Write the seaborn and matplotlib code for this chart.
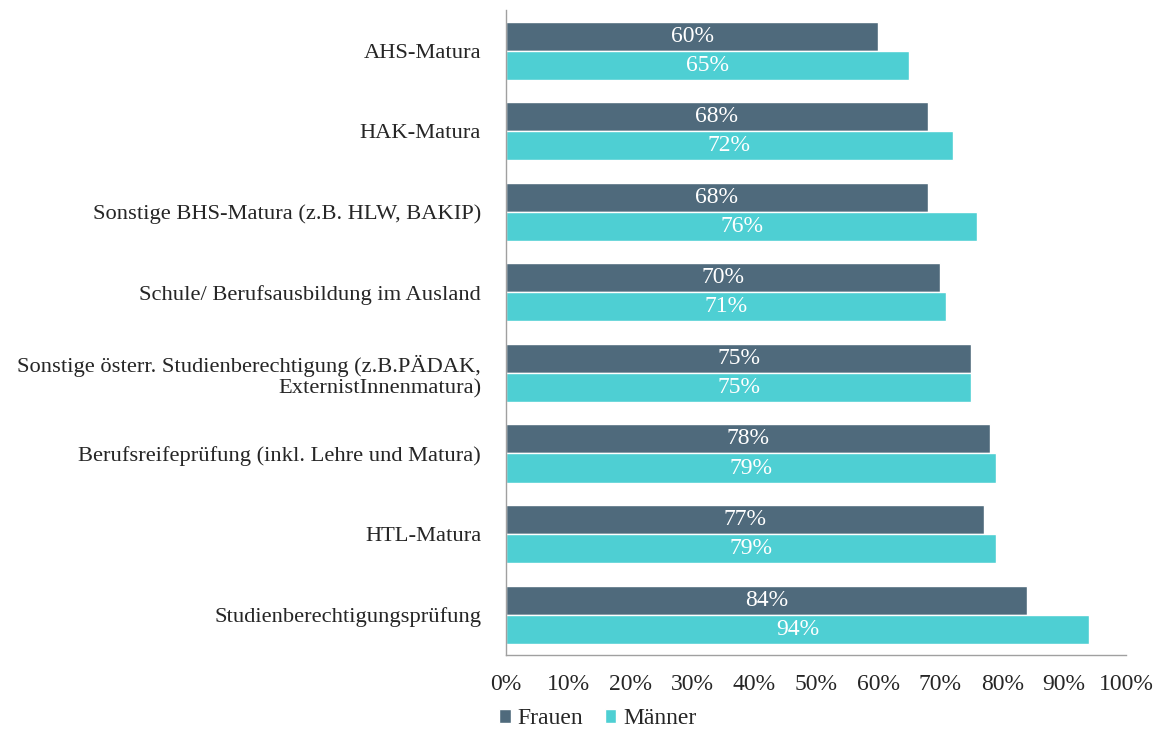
import pandas as pd
import matplotlib
matplotlib.use("Agg")
import matplotlib.pyplot as plt
import seaborn as sns

# Daten (Anteile in %)
categories = [
    "AHS-Matura",
    "HAK-Matura",
    "Sonstige BHS-Matura (z.B. HLW, BAKIP)",
    "Schule/ Berufsausbildung im Ausland",
    "Sonstige österr. Studienberechtigung (z.B.PÄDAK,\nExternistInnenmatura)",
    "Berufsreifeprüfung (inkl. Lehre und Matura)",
    "HTL-Matura",
    "Studienberechtigungsprüfung",
]
frauen = [60, 68, 68, 70, 75, 78, 77, 84]
maenner = [65, 72, 76, 71, 75, 79, 79, 94]
groups = ["Frauen", "Männer"]
palette = {"Frauen": "#4F6A7C", "Männer": "#4ECFD3"}
x_ticks = list(range(0, 101, 10))

df = pd.DataFrame({
    "kategorie": categories * 2,
    "gruppe": ["Frauen"] * len(categories) + ["Männer"] * len(categories),
    "wert": frauen + maenner,
})

sns.set_style("white")
plt.rcParams["font.family"] = ["Liberation Serif", "DejaVu Serif"]

fig = plt.figure(figsize=(11.61, 7.31), dpi=100)
ax = fig.add_axes([0.436, 0.104, 0.534, 0.882])

sns.barplot(
    data=df, x="wert", y="kategorie", hue="gruppe", hue_order=groups,
    palette=palette, saturation=1, orient="h", width=0.72,
    edgecolor="white", linewidth=1, ax=ax, legend=True,
)

for cont, vals in zip(ax.containers, [frauen, maenner]):
    ax.bar_label(cont, labels=[f"{v}%" for v in vals], label_type="center",
                 color="white", fontsize=17)

ax.set_xlim(0, 100)
ax.set_xticks(x_ticks)
ax.set_xticklabels([f"{t}%" for t in x_ticks], fontsize=17)
ax.tick_params(axis="x", length=0, pad=14)
ax.tick_params(axis="y", length=0, pad=18, labelsize=16.2)
for lbl in ax.get_yticklabels():
    lbl.set_horizontalalignment("right")
    lbl.set_multialignment("right")
ax.set_xlabel("")
ax.set_ylabel("")

for side in ["top", "right"]:
    ax.spines[side].set_visible(False)
for side in ["left", "bottom"]:
    ax.spines[side].set_color("#A0A0A0")
    ax.spines[side].set_linewidth(1)

ax.legend(
    loc="upper left", bbox_to_anchor=(-0.027, -0.068), ncol=2, frameon=False,
    fontsize=17, handlelength=0.5, handleheight=0.5, handletextpad=0.3,
    columnspacing=0.9, borderaxespad=0,
)

fig.savefig("out.png", dpi=100)
